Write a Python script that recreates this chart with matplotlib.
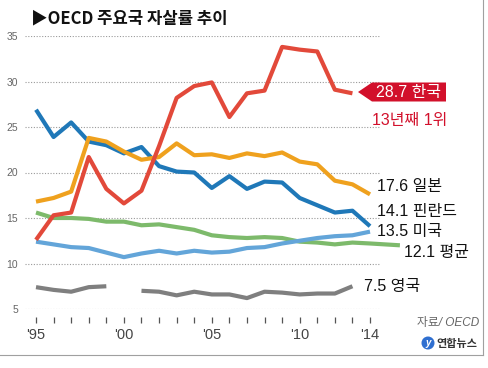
import numpy as np
import matplotlib
matplotlib.use("Agg")
import matplotlib.pyplot as plt
from matplotlib import font_manager
from matplotlib.transforms import Affine2D
from matplotlib.patches import Polygon, Circle
from matplotlib.lines import Line2D

# ---------------- data ----------------
years = list(range(1995, 2015))
korea_years = list(range(1995, 2014))
korea = [12.6, 15.3, 15.6, 21.7, 18.2, 16.6, 18.0, 22.9, 28.2, 29.5, 29.9,
         26.1, 28.7, 29.0, 33.8, 33.5, 33.3, 29.1, 28.7]
japan = [16.8, 17.2, 17.9, 23.8, 23.4, 22.3, 21.4, 21.7, 23.2, 21.9, 22.0,
         21.6, 22.1, 21.8, 22.2, 21.2, 20.9, 19.1, 18.7, 17.6]
finland = [26.9, 23.9, 25.5, 23.4, 23.0, 22.1, 22.8, 20.7, 20.1, 20.0, 18.3,
           19.6, 18.2, 19.0, 18.9, 17.2, 16.4, 15.6, 15.8, 14.1]
usa = [12.4, 12.1, 11.8, 11.7, 11.2, 10.7, 11.1, 11.4, 11.1, 11.4, 11.2,
       11.3, 11.7, 11.8, 12.2, 12.5, 12.8, 13.0, 13.1, 13.5]
oecd_years = list(range(1995, 2015)) + [2015.7]
oecd = [15.6, 15.0, 15.0, 14.9, 14.6, 14.6, 14.2, 14.3, 14.0, 13.7, 13.1,
        12.9, 12.8, 12.9, 12.8, 12.4, 12.3, 12.1, 12.3, 12.2, 12.0]
uk_years = list(range(1995, 2014))
uk = [7.4, 7.1, 6.9, 7.4, 7.5, np.nan, 7.0, 6.9, 6.5, 6.9, 6.6, 6.6, 6.2,
      6.9, 6.8, 6.6, 6.7, 6.7, 7.5]

yticks = [5, 10, 15, 20, 25, 30, 35]
xlabel_years = [1995, 2000, 2005, 2010, 2014]
xlabels = ["'95", "'00", "'05", "'10", "'14"]

title = "▶OECD 주요국 자살률 추이"

# ---------------- fonts ----------------
avail = {f.name for f in font_manager.fontManager.ttflist}
narrow = "Liberation Sans Narrow" if "Liberation Sans Narrow" in avail else "Liberation Sans"
FAM = [narrow, "Noto Sans CJK KR", "DejaVu Sans"]
plt.rcParams['font.family'] = FAM

W, H = 489, 368
fig = plt.figure(figsize=(W / 100, H / 100), dpi=100)
pix = Affine2D().scale(1 / W, -1 / H).translate(0, 1) + fig.transFigure

# axes: left 25px, right 483px; y 5 -> 309px, 35 -> 36px
ax_l, ax_r = 25, 483
ax_top, ax_bot = 36, 309
ax = fig.add_axes([ax_l / W, (H - ax_bot) / H, (ax_r - ax_l) / W, (ax_bot - ax_top) / H])
x0 = 1995 - (36 - ax_l) / 17.58
x1 = 1995 + (ax_r - 36) / 17.58
ax.set_xlim(x0, x1)
ax.set_ylim(5, 35)

for s in ['top', 'right', 'left']:
    ax.spines[s].set_visible(False)
ax.spines['bottom'].set_position(('outward', 6))
ax.spines['bottom'].set_visible(False)

# grid
gfrac = (380 - ax_l) / (ax_r - ax_l)
for v in yticks:
    ax.axhline(v, xmin=0, xmax=gfrac, color='#9a9a9a', lw=0.8, ls=(0, (1, 1.5)), zorder=1)

ax.set_yticks(yticks)
ax.set_yticklabels([str(v) for v in yticks])
ax.tick_params(axis='y', length=0, pad=5, labelsize=7.5, labelcolor='#666666')

ax.set_xticks(years)
ax.set_xticklabels([xlabels[xlabel_years.index(y)] if y in xlabel_years else '' for y in years])
ax.tick_params(axis='x', length=4.5, width=0.9, color='#555555', pad=3.5,
               labelsize=10.5, labelcolor='#444444')

lw = 3.0
ax.plot(uk_years, uk, color='#7f7f7f', lw=lw, solid_capstyle='butt', zorder=3)
ax.plot(oecd_years, oecd, color='#7dba6b', lw=lw, solid_capstyle='butt', zorder=3, clip_on=False)
ax.plot(years, usa, color='#63a5d9', lw=lw, solid_capstyle='butt', zorder=4)
ax.plot(years, finland, color='#1f78b8', lw=lw, solid_capstyle='butt', zorder=5)
ax.plot(years, japan, color='#efa11e', lw=lw, solid_capstyle='butt', zorder=6)
ax.plot(korea_years, korea, color='#e2493a', lw=lw, solid_capstyle='butt', zorder=7)

# ---------------- texts ----------------
def t(x, y, s, **kw):
    fig.text(x, y, s, transform=pix, **kw)

t(31, 18, title, fontsize=12, fontweight='bold', color='#111111', va='center', ha='left',
  family=["Noto Sans CJK KR", "DejaVu Sans"])

# Korea label box
red = '#d2102b'
poly = Polygon([(358, 92), (372, 82.5), (446, 82.5), (446, 101.5), (372, 101.5)],
               closed=True, transform=pix, facecolor=red, edgecolor='none', zorder=10)
fig.patches.append(poly)
t(409, 92.5, "28.7 한국", fontsize=11.5, color='white', va='center', ha='center', zorder=11)
t(410, 120, "13년째 1위", fontsize=11.5, color=red, va='center', ha='center')

lab_kw = dict(fontsize=11.5, color='#111111', va='center', ha='left')
t(377, 186.5, "17.6 일본", **lab_kw)
t(377, 211.5, "14.1 핀란드", **lab_kw)
t(377, 231.5, "13.5 미국", **lab_kw)
t(404, 253, "12.1 평균", **lab_kw)
t(364, 287, "7.5 영국", **lab_kw)

t(417, 323, "자료/ OECD", fontsize=8.5, color='#666666', style='italic', va='center', ha='left')

# logo
circ = Circle((428, 343), 6.5, transform=pix, facecolor='#2f6fd0', edgecolor='none')
fig.patches.append(circ)
t(428, 343.5, "y", fontsize=7, color='white', fontweight='bold', style='italic',
  va='center', ha='center')
t(436, 343, "연합뉴스", fontsize=8, color='#333333', fontweight='bold', va='center', ha='left',
  family=["Noto Sans CJK KR"])

# border
fig.lines.append(Line2D([0, 483], [355, 355], transform=pix, color='#a0a0a0', lw=0.8))
fig.lines.append(Line2D([483, 483], [0, 355], transform=pix, color='#a0a0a0', lw=0.8))

fig.savefig("out.png", dpi=100)
